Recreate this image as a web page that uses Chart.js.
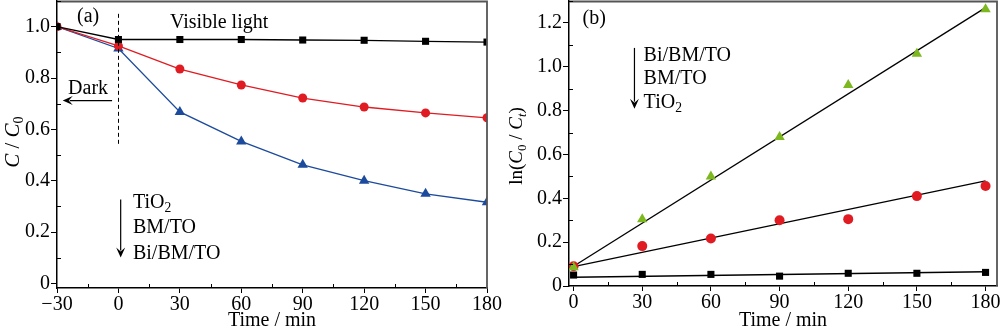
<!DOCTYPE html>
<html>
<head>
<meta charset="utf-8">
<script src="https://cdn.jsdelivr.net/npm/chart.js@4.4.1/dist/chart.umd.min.js"></script>
<style>
  html, body { margin: 0; padding: 0; background: #fff; }
  #wrap { position: relative; width: 1000px; height: 331px; overflow: hidden; }
  #ca { position: absolute; left: 0; top: 0; }
  #cb { position: absolute; left: 500px; top: 0; }
</style>
</head>
<body>
<div id="wrap">
  <canvas id="ca" width="515" height="331"></canvas>
  <canvas id="cb" width="500" height="331"></canvas>
</div>
<script>
// ---------- Panel (a) data ----------
const timeA = [-30, 0, 30, 60, 90, 120, 150, 180];
const tio2A = [1.0, 0.95, 0.95, 0.95, 0.948, 0.947, 0.943, 0.94];
const bmtoA = [1.0, 0.925, 0.835, 0.773, 0.722, 0.687, 0.664, 0.645];
const bibmtoA = [1.0, 0.915, 0.668, 0.553, 0.462, 0.40, 0.349, 0.316];
const xTicksA = [-30, 0, 30, 60, 90, 120, 150, 180];
const xTickLabelsA = ["\u221230", "0", "30", "60", "90", "120", "150", "180"];
const yTicksA = [0, 0.2, 0.4, 0.6, 0.8, 1.0];
const yTickLabelsA = ["0", "0.2", "0.4", "0.6", "0.8", "1.0"];

// ---------- Panel (b) data ----------
const timeB = [0, 30, 60, 90, 120, 150, 180];
const bibmtoB = [0.086, 0.305, 0.50, 0.68, 0.917, 1.059, 1.262];
const bmtoB = [0.09, 0.182, 0.217, 0.30, 0.305, 0.41, 0.456];
const tio2B = [0.05, 0.053, 0.053, 0.045, 0.058, 0.058, 0.062];
const fitX = [0, 180];
const fitBibmto = [0.09, 1.27];
const fitBmto = [0.088, 0.479];
const fitTio2 = [0.04, 0.065];
const xTicksB = [0, 30, 60, 90, 120, 150, 180];
const xTickLabelsB = ["0", "30", "60", "90", "120", "150", "180"];
const yTicksB = [0, 0.2, 0.4, 0.6, 0.8, 1.0, 1.2];
const yTickLabelsB = ["0", "0.2", "0.4", "0.6", "0.8", "1.0", "1.2"];

const BLACK = '#000000', RED = '#e01b22', BLUE = '#1c4a9c', GREEN = '#7cb81e';
const SERIF = '"Liberation Serif", "Times New Roman", serif';
const FS = 20;

function pts(xs, ys) { return xs.map((x, i) => ({ x: x, y: ys[i] })); }

function richWidth(ctx, runs, size) {
  let w = 0;
  runs.forEach(r => {
    const s = r.sub ? size * 0.68 : size;
    ctx.font = (r.it ? 'italic ' : '') + s + 'px ' + SERIF;
    w += ctx.measureText(r.t).width;
  });
  return w;
}
function drawRich(ctx, runs, x, y, size, align) {
  let w = richWidth(ctx, runs, size);
  let cx = align === 'center' ? x - w / 2 : x;
  ctx.textBaseline = 'middle';
  ctx.textAlign = 'left';
  ctx.fillStyle = '#000';
  runs.forEach(r => {
    const s = r.sub ? size * 0.68 : size;
    ctx.font = (r.it ? 'italic ' : '') + s + 'px ' + SERIF;
    ctx.fillText(r.t, cx, r.sub ? y + size * 0.28 : y);
    cx += ctx.measureText(r.t).width;
  });
}
function arrow(ctx, x1, y1, x2, y2) {
  const ang = Math.atan2(y2 - y1, x2 - x1);
  const hl = 10, hw = 4.5;
  ctx.save();
  ctx.strokeStyle = '#000'; ctx.fillStyle = '#000'; ctx.lineWidth = 1.2;
  ctx.beginPath();
  ctx.moveTo(x1, y1);
  ctx.lineTo(x2 - Math.cos(ang) * hl * 0.7, y2 - Math.sin(ang) * hl * 0.7);
  ctx.stroke();
  ctx.beginPath();
  ctx.moveTo(x2, y2);
  ctx.lineTo(x2 - Math.cos(ang) * hl - Math.sin(ang) * hw, y2 - Math.sin(ang) * hl + Math.cos(ang) * hw);
  ctx.lineTo(x2 - Math.cos(ang) * hl * 0.6, y2 - Math.sin(ang) * hl * 0.6);
  ctx.lineTo(x2 - Math.cos(ang) * hl + Math.sin(ang) * hw, y2 - Math.sin(ang) * hl - Math.cos(ang) * hw);
  ctx.closePath();
  ctx.fill();
  ctx.restore();
}

function frameAndMinor(chart) {
  const ctx = chart.ctx, a = chart.chartArea;
  const xs = chart.scales.x, ys = chart.scales.y;
  ctx.save();
  ctx.strokeStyle = '#555'; ctx.lineWidth = 1.8;
  ctx.beginPath();
  ctx.moveTo(a.left, a.top + 0.5); ctx.lineTo(a.right, a.top + 0.5); ctx.lineTo(a.right, a.bottom);
  ctx.stroke();
  ctx.strokeStyle = '#000'; ctx.lineWidth = 1;
  const xt = xs.ticks.map(t => t.value), yt = ys.ticks.map(t => t.value);
  ctx.beginPath();
  for (let i = 0; i < xt.length - 1; i++) {
    const px = Math.round(xs.getPixelForValue((xt[i] + xt[i + 1]) / 2)) + 0.5;
    ctx.moveTo(px, a.bottom); ctx.lineTo(px, a.bottom - 4);
  }
  const ystep = yt[1] - yt[0];
  for (let i = 0; i < yt.length; i++) {
    const v = yt[i] + ystep / 2;
    if (v > ys.max) break;
    const py = Math.round(ys.getPixelForValue(v)) + 0.5;
    ctx.moveTo(a.left, py); ctx.lineTo(a.left + 4, py);
  }
  ctx.stroke();
  ctx.restore();
}

function axisCommon(ticksArr, labelsArr, opts, horizontal, size) {
  return Object.assign({
    type: 'linear',
    afterBuildTicks: s => { s.ticks = ticksArr.map(v => ({ value: v })); },
    afterFit: s => {
      if (horizontal) { s.height = size; s.paddingLeft = 0; s.paddingRight = 0; }
      else { s.width = size; s.paddingTop = 0; s.paddingBottom = 0; }
    },
    ticks: {
      autoSkip: false, maxRotation: 0, padding: horizontal ? 0 : 1,
      color: '#000', font: { family: SERIF, size: FS },
      callback: (v, i) => labelsArr[i]
    },
    grid: { drawOnChartArea: false, drawTicks: true, color: '#000', lineWidth: 1, tickLength: horizontal ? 5 : 6 },
    border: { color: '#000', width: 1.5 }
  }, opts);
}

// ---------- Chart (a) ----------
const annotA = {
  id: 'annotA',
  afterDatasetsDraw(chart) {
    const ctx = chart.ctx, X = v => chart.scales.x.getPixelForValue(v), Y = v => chart.scales.y.getPixelForValue(v);
    frameAndMinor(chart);
    ctx.save();
    ctx.strokeStyle = '#000'; ctx.lineWidth = 1; ctx.setLineDash([4, 3]);
    ctx.beginPath();
    ctx.moveTo(Math.round(X(0)) + 0.5, Y(1.05)); ctx.lineTo(Math.round(X(0)) + 0.5, Y(0.537));
    ctx.stroke();
    ctx.setLineDash([]);
    drawRich(ctx, [{ t: '(a)' }], X(-20.2), Y(1.039), FS, 'left');
    drawRich(ctx, [{ t: 'Visible light' }], X(25.2), Y(1.016), FS, 'left');
    drawRich(ctx, [{ t: 'Dark' }], X(-24.6), Y(0.759), FS, 'left');
    arrow(ctx, X(-3.1), Y(0.712), X(-27.2), Y(0.712));
    drawRich(ctx, [{ t: 'TiO' }, { t: '2', sub: true }], X(7.1), Y(0.315), FS, 'left');
    drawRich(ctx, [{ t: 'BM/TO' }], X(7.1), Y(0.218), FS, 'left');
    drawRich(ctx, [{ t: 'Bi/BM/TO' }], X(7.1), Y(0.117), FS, 'left');
    arrow(ctx, X(1.1), Y(0.327), X(1.1), Y(0.101));
    ctx.save();
    ctx.translate(13, 142);
    ctx.rotate(-Math.PI / 2);
    drawRich(ctx, [{ t: 'C', it: true }, { t: ' / ' }, { t: 'C', it: true }, { t: '0', sub: true }], 0, 0, 21, 'center');
    ctx.restore();
    ctx.restore();
  }
};

const titleOpt = { display: true, text: 'Time / min', color: '#000', font: { family: SERIF, size: FS, lineHeight: 1 }, padding: 0 };

new Chart(document.getElementById('ca'), {
  type: 'line',
  data: {
    datasets: [
      { label: 'TiO2', data: pts(timeA, tio2A), borderColor: BLACK, backgroundColor: BLACK, pointStyle: 'rect', pointRadius: 5, borderWidth: 1.3, pointBorderWidth: 0 },
      { label: 'BM/TO', data: pts(timeA, bmtoA), borderColor: RED, backgroundColor: RED, pointStyle: 'circle', pointRadius: 4.5, borderWidth: 1.3, pointBorderWidth: 0 },
      { label: 'Bi/BM/TO', data: pts(timeA, bibmtoA), borderColor: BLUE, backgroundColor: BLUE, pointStyle: 'triangle', pointRadius: 6, borderWidth: 1.3, pointBorderWidth: 0 }
    ]
  },
  options: {
    responsive: false, animation: false, devicePixelRatio: 1,
    layout: { autoPadding: false, padding: { left: 0, right: 28, top: 1, bottom: 0 } },
    plugins: { legend: { display: false }, tooltip: { enabled: false } },
    elements: { line: { tension: 0 } },
    scales: {
      x: axisCommon(xTicksA, xTickLabelsA, { min: -30, max: 180, title: titleOpt }, true, 43),
      y: axisCommon(yTicksA, yTickLabelsA, { min: -0.018, max: 1.1 }, false, 57)
    }
  },
  plugins: [annotA]
});

// ---------- Chart (b) ----------
const annotB = {
  id: 'annotB',
  afterDatasetsDraw(chart) {
    const ctx = chart.ctx, X = v => chart.scales.x.getPixelForValue(v), Y = v => chart.scales.y.getPixelForValue(v);
    frameAndMinor(chart);
    ctx.save();
    drawRich(ctx, [{ t: '(b)' }], X(3.9), Y(1.218), FS, 'left');
    drawRich(ctx, [{ t: 'Bi/BM/TO' }], X(30.6), Y(1.05), FS, 'left');
    drawRich(ctx, [{ t: 'BM/TO' }], X(30.6), Y(0.945), FS, 'left');
    drawRich(ctx, [{ t: 'TiO' }, { t: '2', sub: true }], X(30.6), Y(0.836), FS, 'left');
    arrow(ctx, X(26.6), Y(1.086), X(26.6), Y(0.809));
    ctx.save();
    ctx.translate(17, 146);
    ctx.rotate(-Math.PI / 2);
    drawRich(ctx, [{ t: 'ln(' }, { t: 'C', it: true }, { t: '0', sub: true }, { t: ' / ' }, { t: 'C', it: true }, { t: 't', it: true, sub: true }, { t: ')' }], 0, 0, 19, 'center');
    ctx.restore();
    ctx.restore();
  }
};

new Chart(document.getElementById('cb'), {
  type: 'scatter',
  data: {
    datasets: [
      { type: 'line', label: 'fit Bi/BM/TO', data: pts(fitX, fitBibmto), borderColor: BLACK, borderWidth: 1.3, pointRadius: 0, order: 5 },
      { type: 'line', label: 'fit BM/TO', data: pts(fitX, fitBmto), borderColor: BLACK, borderWidth: 1.3, pointRadius: 0, order: 5 },
      { type: 'line', label: 'fit TiO2', data: pts(fitX, fitTio2), borderColor: BLACK, borderWidth: 1.3, pointRadius: 0, order: 5 },
      { label: 'TiO2', data: pts(timeB, tio2B), backgroundColor: BLACK, borderColor: BLACK, pointStyle: 'rect', pointRadius: 5, borderWidth: 0, order: 3 },
      { label: 'BM/TO', data: pts(timeB, bmtoB), backgroundColor: RED, borderColor: RED, pointStyle: 'circle', pointRadius: 5, borderWidth: 0, order: 2 },
      { label: 'Bi/BM/TO', data: pts(timeB, bibmtoB), backgroundColor: GREEN, borderColor: GREEN, pointStyle: 'triangle', pointRadius: 6, borderWidth: 0, order: 1 }
    ]
  },
  options: {
    responsive: false, animation: false, devicePixelRatio: 1,
    layout: { autoPadding: false, padding: { left: 0, right: 3, top: 1, bottom: 0 } },
    plugins: { legend: { display: false }, tooltip: { enabled: false } },
    scales: {
      x: axisCommon(xTicksB, xTickLabelsB, { min: -2, max: 185, title: titleOpt }, true, 45),
      y: axisCommon(yTicksB, yTickLabelsB, { min: 0, max: 1.3 }, false, 69)
    }
  },
  plugins: [annotB]
});
</script>
</body>
</html>
